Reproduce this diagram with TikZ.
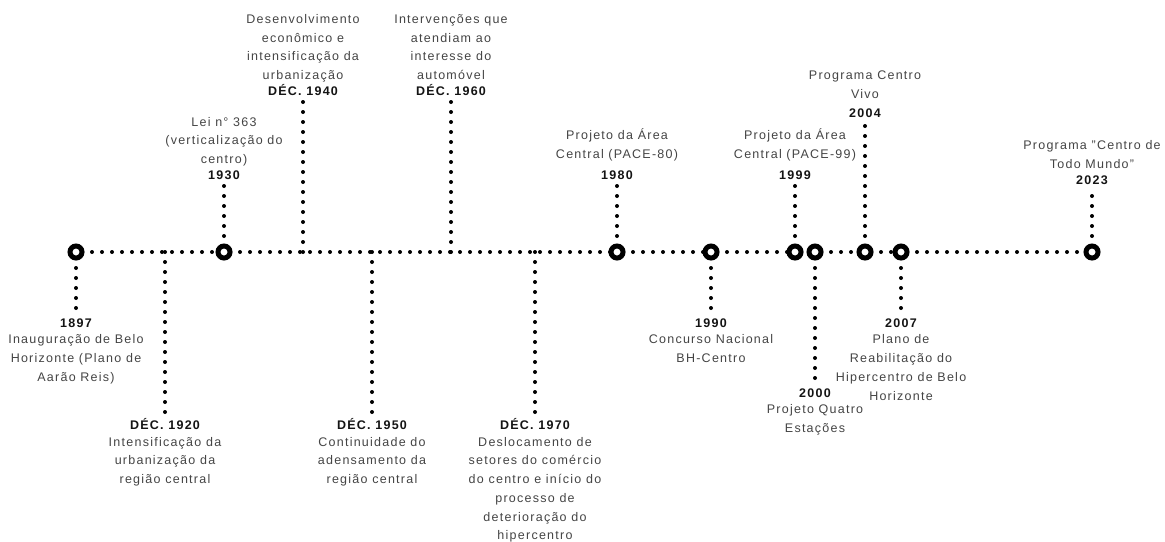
\documentclass[tikz,border=0pt]{standalone}
\usepackage{fontspec}
\setmainfont[LetterSpace=10]{Liberation Sans}
\usepackage{xcolor}
\definecolor{textgray}{RGB}{68, 68, 68}
\definecolor{yearblack}{RGB}{20, 20, 20}
\usepackage{tikz}
\usetikzlibrary{
    positioning
}
\tikzstyle{dotline} = [
    line width=4pt,
    line cap=round,
    dash pattern=on 0pt off 10pt
]
\newcommand{\yearlabel}[1]{{\bfseries\color{yearblack}#1}}

\begin{document}
\begin{tikzpicture}[
    x=1pt, y=-1pt,
    event/.style={circle, draw, line width=5pt, fill=white, minimum size=12pt, inner sep=0pt, outer sep=0pt},
    upper/.style={align=center, inner sep=0pt, outer sep=0pt, text=textgray, font=\fontsize{12.5}{18.7}\selectfont},
    lower/.style={upper},
    tick/.style={dotline, shorten >=6pt}
]
    \useasboundingbox (0,0) rectangle (1165,541);

    % Events on the timeline
    \node[event] (c1897) at (76,252) {};
    \node[event] (c1930) at (224,252) {};
    \node[event] (c1980) at (617,252) {};
    \node[event] (c1990) at (711,252) {};
    \node[event] (c1999) at (795,252) {};
    \node[event] (c2000) at (815,252) {};
    \node[event] (c2004) at (865,252) {};
    \node[event] (c2007) at (901,252) {};
    \node[event] (c2023) at (1092,252) {};

    % Decades (no marker)
    \coordinate (t1920) at (165,252);
    \coordinate (t1940) at (303,252);
    \coordinate (t1950) at (372,252);
    \coordinate (t1960) at (451,252);
    \coordinate (t1970) at (535,252);

    % Labels above
    \node[upper, above=66.5pt of c1930] (l1930) {Lei n° 363\\(verticalização do\\centro)\\[-3pt]\yearlabel{1930}};
    \node[upper, above=156.5pt of t1940] (l1940) {Desenvolvimento\\econômico e\\intensificação da\\urbanização\\[-3pt]\yearlabel{DÉC. 1940}};
    \node[upper, above=156.5pt of t1960] (l1960) {Intervenções que\\atendiam ao\\interesse do\\automóvel\\[-3pt]\yearlabel{DÉC. 1960}};
    \node[upper, above=66.5pt of c1980] (l1980) {Projeto da Área\\Central (PACE-80)\\[2pt]\yearlabel{1980}};
    \node[upper, above=66.5pt of c1999] (l1999) {Projeto da Área\\Central (PACE-99)\\[2pt]\yearlabel{1999}};
    \node[upper, above=128.5pt of c2004] (l2004) {Programa Centro\\Vivo\\\yearlabel{2004}};
    \node[upper, above=61.5pt of c2023] (l2023) {Programa "Centro de\\Todo Mundo"\\[-3pt]\yearlabel{2023}};

    % Labels below
    \node[lower, below=60.5pt of c1897] (l1897) {\yearlabel{1897}\\[-2pt]Inauguração de Belo\\Horizonte (Plano de\\Aarão Reis)};
    \node[lower, below=166.5pt of t1920] (l1920) {\yearlabel{DÉC. 1920}\\[-2pt]Intensificação da\\urbanização da\\região central};
    \node[lower, below=166.5pt of t1950] (l1950) {\yearlabel{DÉC. 1950}\\[-2pt]Continuidade do\\adensamento da\\região central};
    \node[lower, below=166.5pt of t1970] (l1970) {\yearlabel{DÉC. 1970}\\[-2pt]Deslocamento de\\setores do comércio\\do centro e início do\\processo de\\deterioração do\\hipercentro};
    \node[lower, below=60.5pt of c1990] (l1990) {\yearlabel{1990}\\[-2pt]Concurso Nacional\\BH-Centro};
    \node[lower, below=130.5pt of c2000] (l2000) {\yearlabel{2000}\\[-2pt]Projeto Quatro\\Estações};
    \node[lower, below=60.5pt of c2007] (l2007) {\yearlabel{2007}\\[-2pt]Plano de\\Reabilitação do\\Hipercentro de Belo\\Horizonte};

    % Timeline
    \foreach \a/\b in {c1897/c1930, c1930/c1980, c1980/c1990, c1990/c1999, c1999/c2000, c2000/c2004, c2004/c2007, c2007/c2023}
        \draw[dotline] (\a) -- (\b);

    % Ticks
    \foreach \a/\b in {c1897/l1897, t1920/l1920, c1930/l1930, t1940/l1940, t1950/l1950, t1960/l1960, t1970/l1970, c1980/l1980, c1990/l1990, c1999/l1999, c2000/l2000, c2004/l2004, c2007/l2007, c2023/l2023}
        \draw[tick] (\a) -- (\b);

\end{tikzpicture}
\end{document}
